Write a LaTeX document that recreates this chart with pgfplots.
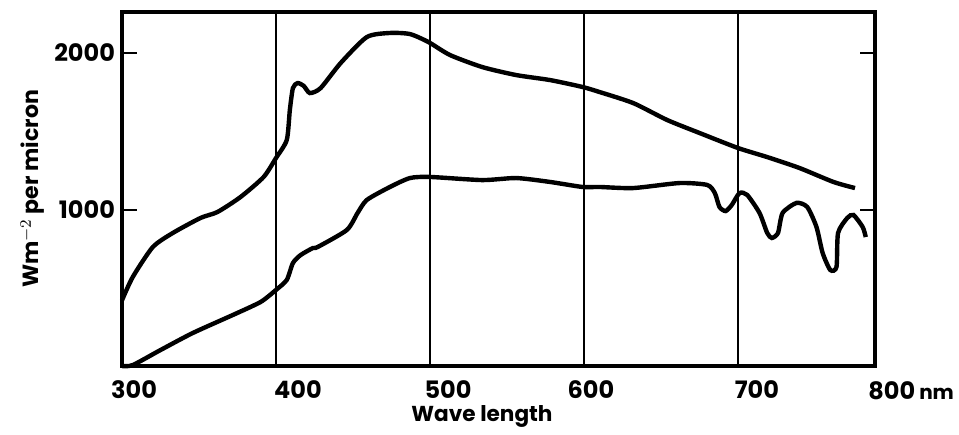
\documentclass[border=0pt]{standalone}
\usepackage{fontspec}
\setmainfont{Poppins}
\usepackage{pgfplots}
\pgfplotsset{compat=1.18}
\begin{document}
\begin{tikzpicture}
\begin{axis}[
  scale only axis, width=376.5pt, height=177pt,
  xmin=300, xmax=789, ymin=0, ymax=2262,
  axis line style={line width=1.8pt},
  xtick={307.8,414.3,511.7,604.5,712.3},
  xticklabels={300,400,500,600,700},
  xtick style={draw=none},
  xticklabel style={yshift=-4pt},
  ytick={1000,2000},
  tick align=inside,
  ytick style={line width=1pt, black},
  major tick length=7.5pt,
  extra x ticks={400,500,600,700},
  extra x tick labels={},
  extra x tick style={grid=major, major tick length=0pt, major grid style={line width=1pt, black}},
  /pgf/number format/assume math mode=true,
  /pgf/number format/1000 sep={},
  tick label style={font=\fontsize{12}{14}\selectfont\bfseries},
  ylabel={Wm$^{-2}$ per micron},
  ylabel style={font=\fontsize{11}{13}\selectfont\bfseries, yshift=-2pt},
  clip=false,
]
\addplot[line width=2.2pt, smooth, tension=0.4] coordinates {
(300,420) (307,569) (320,760) (333,850) (351,946) (362,984) (377,1080) (392,1208)
(400,1329) (407,1444) (409,1636) (411,1776) (414,1808) (418,1790) (422,1744) (429,1776)
(442,1936) (459,2102) (474,2128) (487,2121) (499,2070) (513,1987) (534,1910) (556,1859)
(578,1827) (599,1783) (610,1751) (632,1680) (654,1572) (675,1489) (700,1393) (719,1335)
(740,1265) (762,1176) (776,1137)
};
\addplot[line width=2.2pt, smooth, tension=0.4] coordinates {
(300,0) (307,6) (325,102) (346,211) (372,326) (390,409) (400,486) (407,550) (411,658)
(416,709) (424,754) (427,760) (446,869) (453,978) (459,1061) (474,1144) (487,1201)
(500,1208) (534,1188) (556,1201) (578,1176) (599,1144) (610,1144) (632,1137) (662,1169)
(680,1157) (685,1105) (688,1016) (692,990) (696,1029) (701,1105) (706,1093) (714,978)
(719,850) (722,818) (726,850) (729,978) (738,1042) (745,1016) (751,888) (755,722)
(760,613) (764,633) (765,850) (771,946) (775,965) (781,888) (783,824)
};
\end{axis}
\node[anchor=west, inner sep=0pt, font=\fontsize{12}{14}\selectfont\bfseries] at ([shift={(373pt,-12.5pt)}]current axis.south west) {800\,{\fontsize{10}{12}\selectfont nm}};
\node[font=\fontsize{10.8}{13}\selectfont\bfseries] at ([shift={(180pt,-25pt)}]current axis.south west) {Wave length};
\path ([shift={(-61pt,-34pt)}]current axis.south west) rectangle ([shift={(418.5pt,183pt)}]current axis.south west);
\end{tikzpicture}
\end{document}
